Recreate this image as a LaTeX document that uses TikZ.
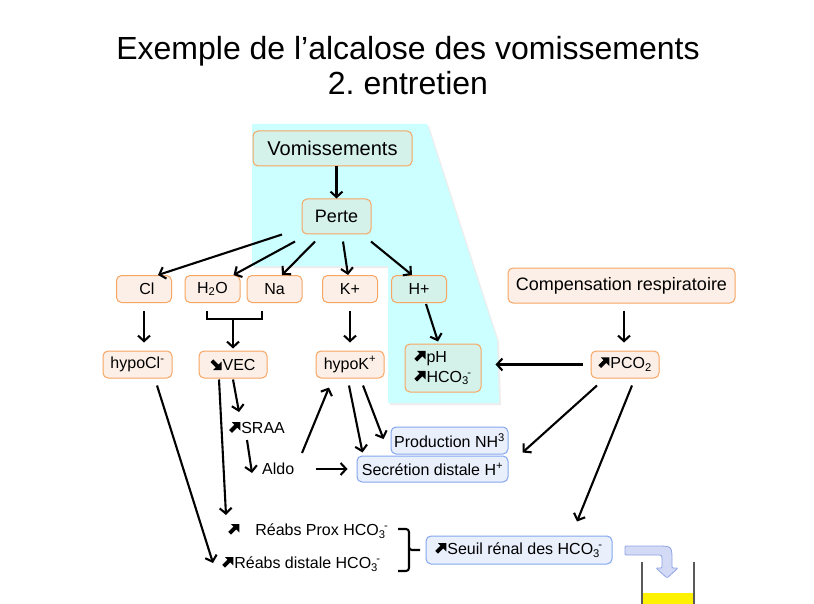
\documentclass[tikz,border=0pt]{standalone}
\usepackage{fontspec}
\setmainfont{Liberation Sans}
\usetikzlibrary{arrows.meta,calc}

\definecolor{bgcyan}{HTML}{CCFFFF}
\definecolor{peachfill}{HTML}{FCEFE7}
\definecolor{greenfill}{HTML}{D5F2EA}
\definecolor{orangeline}{HTML}{F6A562}
\definecolor{bluefill}{HTML}{E9EFFB}
\definecolor{blueline}{HTML}{85A6EE}
\definecolor{arrowfill}{HTML}{D3DAF5}
\definecolor{arrowline}{HTML}{8FA3E6}

% heavy inline arrows for "increase" (north east) and "decrease" (south east)
\newcommand\arrUp{\tikz[baseline=0pt,x=1pt,y=1pt,sharp corners]\fill[black] (11.5,11.5) -- (3,11.5) -- (5.6,8.9) -- (0.4,3.7) -- (3.2,0.9) -- (8.4,6.1) -- (11.5,3) -- cycle;\kern1pt}
\newcommand\arrDown{\tikz[baseline=0pt,x=1pt,y=1pt,sharp corners]\fill[black] (11.5,0) -- (3,0) -- (5.6,2.6) -- (0.4,7.8) -- (3.2,10.6) -- (8.4,5.4) -- (11.5,8.5) -- cycle;\kern1pt}
\newcommand\hcoion{HCO\textsubscript{3}\kern-1.5pt\textsuperscript{-}}

\tikzset{
  basebox/.style={rounded corners=5pt, line width=1pt, inner sep=0pt, align=center,
    font=\fontsize{16}{20}\selectfont},
  peachbox/.style={basebox, draw=orangeline, fill=peachfill},
  greenbox/.style={basebox, draw=orangeline, fill=greenfill},
  bluebox/.style={basebox, draw=blueline, fill=bluefill},
  label/.style={inner sep=0pt, anchor=west, font=\fontsize{16}{20}\selectfont},
  conn/.style={line width=2.1pt, -{Straight Barb[length=5.5pt,width=12pt]}},
  bar/.style={line width=2.1pt},
}

\begin{document}
\begin{tikzpicture}[x=1pt,y=-1pt]
\useasboundingbox (0,0) rectangle (814,604);
\fill[white] (0,0) rectangle (814,604);

% cyan band behind the loss / H+ branch
\fill[black!7] (254,126) -- (429,126) -- (499,342) -- (501,405) -- (390,405) -- (390,268) -- (254,268) -- cycle;
\fill[bgcyan] (252,124) -- (427,124) -- (497,340) -- (499,403) -- (388,403) -- (388,266) -- (252,266) -- cycle;

% title
\node[font=\fontsize{32}{35}\selectfont, anchor=base] (title1) at (408,60) {Exemple de l’alcalose des vomissements};
\node[font=\fontsize{32}{35}\selectfont, anchor=base] (title2) at (408,95) {2.\ entretien};

% boxes
\node[greenbox, font=\fontsize{20}{24}\selectfont, minimum width=159pt, minimum height=35pt] (vom) at (332.5,148.5) {Vomissements};
\node[greenbox, font=\fontsize{18}{22}\selectfont, minimum width=69pt, minimum height=35pt] (perte) at (336.5,216.5) {Perte};

\node[peachbox, minimum width=55pt, minimum height=27pt] (cl) at (144,289) {\hspace{6pt}Cl};
\node[peachbox, minimum width=55pt, minimum height=27pt] (h2o) at (212.5,289) {H\textsubscript{2}O};
\node[peachbox, minimum width=55pt, minimum height=27pt] (na) at (274.5,289) {Na};
\node[peachbox, minimum width=55pt, minimum height=27pt] (kp) at (350,289) {K+};
\node[greenbox, minimum width=55pt, minimum height=27pt] (hp) at (419,289) {H+};
\node[peachbox, font=\fontsize{18}{22}\selectfont, minimum width=227pt, minimum height=35pt] (comp) at (621.5,285.5) {Compensation respiratoire};

\node[peachbox, minimum width=69pt, minimum height=27pt] (hypocl) at (137.5,364.5) {hypoCl\textsuperscript{-}};
\node[peachbox, minimum width=68pt, minimum height=27pt] (vec) at (233,364.5) {\arrDown VEC};
\node[peachbox, minimum width=68pt, minimum height=27pt] (hypok) at (350,364.5) {hypoK\textsuperscript{+}};
\node[greenbox, align=left, minimum width=76pt, minimum height=48pt] (ph) at (443,368) {\arrUp pH\\\arrUp\hcoion};
\node[peachbox, minimum width=68pt, minimum height=27pt] (pco) at (625,364.5) {\arrUp PCO\textsubscript{2}};

\node[label] (sraa) at (229,428) {\arrUp SRAA};
\node[label] (aldo) at (262,469) {Aldo};
\node[bluebox, minimum width=117pt, minimum height=27pt] (prod) at (449.5,440.5) {Production NH\textsuperscript{3}};
\node[bluebox, minimum width=151pt, minimum height=26pt] (sec) at (432.5,469) {Secrétion distale H\textsuperscript{+}};

\node[label] (rprox) at (228,531) {\arrUp\hspace{15pt}Réabs Prox \hcoion};
\node[label] (rdist) at (222,564) {\arrUp Réabs distale \hcoion};
\node[bluebox, minimum width=186pt, minimum height=28pt] (seuil) at (519,550) {\arrUp Seuil rénal des \hcoion};

% connectors
\draw[conn] (vom.south -| perte.north) -- (perte.north);
\draw[conn] ($(perte.south)+(-54.5,0)$) -- ($(cl.north)+(14,0)$);
\draw[conn] ($(perte.south)+(-41.5,7)$) -- ($(h2o.north east)+(-7,0)$);
\draw[conn] ($(perte.south)+(-21.5,7)$) -- ($(na.north)+(7.5,0)$);
\draw[conn] ($(perte.south)+(6.5,7)$) -- ($(kp.north)+(-2,0)$);
\draw[conn] ($(perte.south)+(34.5,7)$) -- ($(hp.north)+(-7,0)$);

\draw[conn] ($(cl.south)+(0,8)$) -- ($(cl.south |- hypocl.north)+(0,-8)$);
\draw[bar] ($(h2o.south)+(-5.5,8)$) -- ($(h2o.south)+(-5.5,16)$) -- ($(na.south)+(-12.5,16)$) -- ($(na.south)+(-12.5,8)$);
\draw[conn] ($(vec.north)+(0,-33)$) -- ($(vec.north)+(0,-2)$);
\draw[conn] ($(kp.south)+(0,8)$) -- ($(kp.south |- hypok.north)+(0,-8)$);
\draw[conn] ($(hp.south)+(7,1)$) -- ($(ph.north)+(-5,-2)$);
\draw[conn] ($(comp.south)+(2.5,7)$) -- ($(pco.north)+(-1,-8)$);
\draw[conn] ($(pco.west)+(-8,0)$) -- ($(ph.east |- pco.west)+(14,0)$);
\draw[conn] ($(pco.south)+(-28,7)$) -- ($(sec.north east)+(14,-3)$);
\draw[conn] ($(pco.south)+(7,7)$) -- ($(seuil.north)+(58,-14)$);

\draw[conn] ($(hypocl.south)+(19.5,7)$) -- ($(rdist.west)+(-9,-1)$);
\draw[conn] ($(vec.south)+(0,1)$) -- ($(sraa.west)+(10,-16)$);
\draw[conn] ($(vec.south)+(-14,1)$) -- ($(rprox.west)+(-2,-16)$);
\draw[conn] ($(sraa.west)+(18,12)$) -- ($(aldo.west)+(-10,4)$);
\draw[conn] ($(aldo.west)+(40,-16)$) -- ($(hypok.south)+(-21,9)$);
\draw[conn] ($(aldo.east)+(22,0)$) -- ($(sec.west)+(-9,0)$);
\draw[conn] ($(hypok.south)+(-1,7)$) -- ($(sec.north west)+(6,-3)$);
\draw[conn] ($(hypok.south)+(13,7)$) -- ($(prod.west)+(-7,-1.5)$);

% brace grouping the two reabsorptions, pointing at the threshold box
\coordinate (bracetop) at (398,529);
\coordinate (bracebot) at (398,571);
\coordinate (bracetip) at (420,550);
\draw[bar, rounded corners=3pt, line join=round]
  (bracetop) -| (409,547) -- (bracetip -| 409,550) -- (bracetip)
  (bracetip -| 409,550) -- (409,553) |- (bracebot);

% curved block arrow towards the urine
\filldraw[fill=arrowfill, draw=arrowline, line width=0.8pt, rounded corners=1pt]
  (625,546) -- (656,546) .. controls (672,546) .. (672,562) -- (672,568) -- (678,568)
  -- (667,578) -- (656,568) -- (662,568) -- (662,562) .. controls (662,555) .. (656,555)
  -- (625,555) -- cycle;

% beaker with yellow urine
\fill[yellow] (642,593) rectangle (694,604);
\draw[gray!70!black, line width=1.2pt] (642,562) -- (642,604) (694,562) -- (694,604);
\end{tikzpicture}
\end{document}
